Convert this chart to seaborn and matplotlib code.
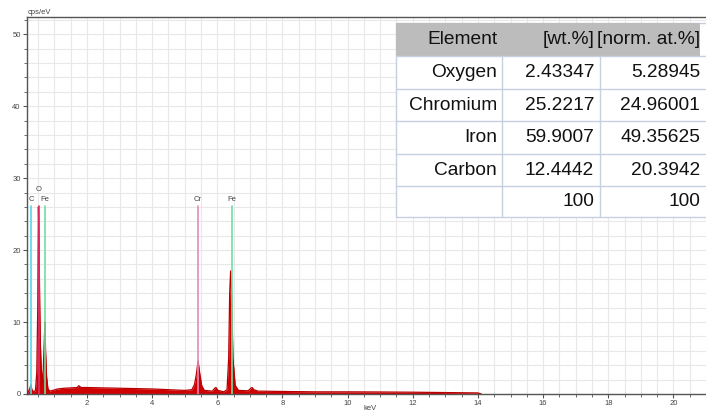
import numpy as np
import pandas as pd
import matplotlib
matplotlib.use("Agg")
import matplotlib.pyplot as plt
import seaborn as sns
from matplotlib.patches import Rectangle

# ---- spectrum data ----
energy_kev = [0.15, 0.20, 0.25, 0.28, 0.31, 0.36, 0.42, 0.46, 0.49, 0.51, 0.53, 0.55,
              0.57, 0.60, 0.63, 0.66, 0.69, 0.71, 0.73, 0.76, 0.80, 0.85, 0.95, 1.10,
              1.30, 1.50, 1.70, 1.75, 1.82, 2.00, 2.50, 3.00, 3.50, 4.00, 4.50, 5.00,
              5.22, 5.30, 5.36, 5.41, 5.46, 5.52, 5.60, 5.85, 5.92, 5.96, 6.02, 6.20,
              6.30, 6.35, 6.38, 6.41, 6.44, 6.48, 6.55, 6.65, 6.95, 7.03, 7.07, 7.12,
              7.25, 8.00, 9.00, 10.0, 11.0, 12.0, 13.0, 14.0, 14.1]
counts_cps = [0.0, 0.3, 0.8, 1.3, 0.6, 0.3, 0.5, 3.0, 12.0, 26.0, 20.6, 12.6,
              7.0, 3.3, 1.5, 3.5, 7.3, 10.0, 6.0, 2.5, 0.8, 0.4, 0.5, 0.7,
              0.8, 0.85, 0.9, 1.15, 0.9, 0.9, 0.85, 0.8, 0.75, 0.7, 0.6, 0.5,
              0.6, 1.3, 2.8, 4.6, 2.9, 1.2, 0.5, 0.4, 0.8, 0.9, 0.5, 0.3,
              0.6, 5.0, 13.9, 17.1, 14.0, 5.0, 1.2, 0.5, 0.45, 0.8, 0.9, 0.6,
              0.4, 0.35, 0.3, 0.3, 0.28, 0.25, 0.2, 0.15, 0.0]

# ---- element marker lines ----
line_labels = ["C", "O", "Fe", "Cr", "Fe"]
line_energy = [0.28, 0.52, 0.70, 5.41, 6.44]
line_height = [26.1, 26.1, 26.1, 26.1, 26.1]
line_colors = ["#55d6e8", "#e0306e", "#6ee0a0", "#e888bc", "#6ee0a0"]

# ---- table ----
tbl_header = ["Element", "[wt.%]", "[norm. at.%]"]
tbl_element = ["Oxygen", "Chromium", "Iron", "Carbon", ""]
tbl_wt = ["2.43347", "25.2217", "59.9007", "12.4442", "100"]
tbl_at = ["5.28945", "24.96001", "49.35625", "20.3942", "100"]

df = pd.DataFrame({"energy": energy_kev, "cps": counts_cps})

sns.set_theme(style="white")
plt.rcParams["font.family"] = ["Liberation Sans", "DejaVu Sans"]

W, H = 706, 413
fig = plt.figure(figsize=(W / 100, H / 100), dpi=100)
ax = fig.add_axes([27 / W, 1 - 394 / H, 1 - 27 / W, (394 - 17) / H])

ax.set_xlim(0.16, 21.0)
ax.set_ylim(0, 52.4)

# grid
ax.set_xticks(np.arange(2, 21, 2))
ax.set_xticks(np.arange(0.5, 21, 0.5), minor=True)
ax.set_yticks(np.arange(0, 51, 10))
ax.set_yticks(np.arange(0, 53, 2), minor=True)
ax.grid(True, which="both", color="#e8e8e8", linewidth=0.8)
ax.set_axisbelow(True)

ax.fill_between(df["energy"], 0, df["cps"], color="#d00000", linewidth=0, zorder=2)
sns.lineplot(data=df, x="energy", y="cps", ax=ax, color="#b80000", linewidth=0.9,
             zorder=3, legend=False)

for lab, e, h, c in zip(line_labels, line_energy, line_height, line_colors):
    ax.plot([e, e], [0, h], color=c, linewidth=1.2, zorder=4)
    yoff = 2.3 if lab == "O" else 0.9
    ax.text(e, h + yoff, lab, ha="center", va="center", fontsize=5.5, color="#444444")

ax.spines["right"].set_visible(False)
for s in ["left", "bottom", "top"]:
    ax.spines[s].set_color("#555555")
    ax.spines[s].set_linewidth(1.0)

ax.tick_params(axis="both", which="major", direction="out", length=3, width=0.8,
               color="#555555", labelsize=5.5, labelcolor="#444444", pad=1.5)
ax.tick_params(axis="both", which="minor", direction="out", length=2, width=0.6,
               color="#555555")
ax.tick_params(left=True, bottom=True, which="both")
ax.set_xlabel("")
ax.set_ylabel("")

fig.text(28 / W, 1 - 13 / H, "cps/eV", fontsize=5.5, color="#444444", va="center", ha="left")
fig.text(370 / W, 1 - 408.5 / H, "keV", fontsize=5.5, color="#444444", va="center", ha="center")

# ---- table drawn in pixel coordinates ----
def px(x, y):
    return x / W, 1 - y / H

col_edges = [396, 502, 600, 712]
row_edges = [23, 56, 88.5, 121, 153.5, 186, 217]
border = "#c5d0e0"

x0, y1 = px(col_edges[0], row_edges[-1])
x1, y0 = px(col_edges[-1], row_edges[0])
fig.add_artist(Rectangle((x0, y1), x1 - x0, y0 - y1, transform=fig.transFigure,
                         facecolor="white", edgecolor=border, linewidth=1.0, zorder=5))
hx0, hy1 = px(col_edges[0], row_edges[1])
hx1, _ = px(700, row_edges[1])
fig.add_artist(Rectangle((hx0, hy1), hx1 - hx0, y0 - hy1, transform=fig.transFigure,
                         facecolor="#bcbcbc", edgecolor="none", zorder=6))
for r in row_edges[1:-1]:
    a, b = px(col_edges[0], r)
    c, _ = px(col_edges[-1], r)
    fig.add_artist(plt.Line2D([a, c], [b, b], transform=fig.transFigure, color=border,
                              linewidth=1.0, zorder=7))
for cx in col_edges[1:3]:
    a, b = px(cx, row_edges[1])
    _, d = px(cx, row_edges[-1])
    fig.add_artist(plt.Line2D([a, a], [b, d], transform=fig.transFigure, color=border,
                              linewidth=1.0, zorder=7))

text_right = [497, 594, 700]
rows = [tbl_header] + [[e, w, a] for e, w, a in zip(tbl_element, tbl_wt, tbl_at)]
for i, row in enumerate(rows):
    yc = (row_edges[i] + row_edges[i + 1]) / 2 + 0.5
    for j, txt in enumerate(row):
        xx, yy = px(text_right[j], yc)
        fig.text(xx, yy, txt, ha="right", va="center", fontsize=13.8, color="#111111",
                 zorder=8)

fig.savefig("out.png", dpi=100)
